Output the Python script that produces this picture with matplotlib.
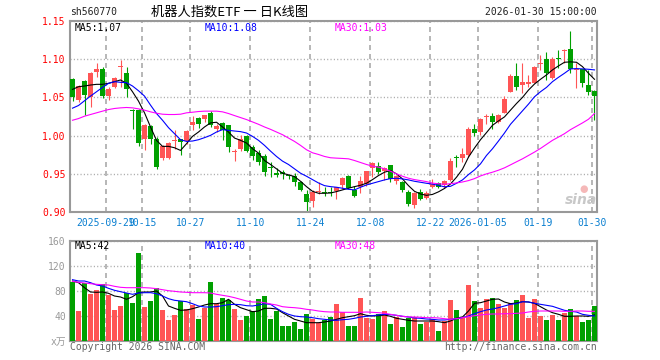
import matplotlib
matplotlib.use("Agg")
import matplotlib.pyplot as plt
import numpy as np

plt.rcParams['font.family'] = ['DejaVu Sans Mono', 'Noto Sans CJK SC']

## daily candles, 2025-09-19 .. 2026-01-30 (88 trading days)
opens = [1.0737, 1.0464, 1.0715, 1.0508, 1.0838, 1.0873, 1.0521, 1.0631, 1.0895, 1.0816,
         1.0333, 1.0333, 0.9951, 1.0122, 0.9960, 0.9705, 0.9705, 0.9933, 0.9951, 0.9925,
         1.0135, 1.0236, 1.0223, 1.0302, 1.0082, 1.0170, 1.0135, 0.9784, 0.9819, 1.0000,
         0.9850, 0.9771, 0.9731, 0.9587, 0.9508, 0.9530, 0.9486, 0.9477, 0.9390, 0.9236,
         0.9148, 0.9258, 0.9258, 0.9258, 0.9280, 0.9357, 0.9477, 0.9289, 0.9324, 0.9367,
         0.9573, 0.9600, 0.9543, 0.9609, 0.9402, 0.9390, 0.9267, 0.9091, 0.9267, 0.9179,
         0.9324, 0.9380, 0.9357, 0.9424, 0.9718, 0.9705, 0.9749, 1.0091, 1.0047, 1.0240,
         1.0254, 1.0179, 1.0298, 1.0574, 1.0780, 1.0662, 1.0671, 1.0693, 1.0939, 1.1004,
         1.0750, 1.1018, 1.1101, 1.1136, 1.0860, 1.0868, 1.0662, 1.0583]
highs = [1.0750, 1.0660, 1.0728, 1.0838, 1.0956, 1.0895, 1.0640, 1.0763, 1.0991, 1.0895,
         1.0346, 1.0346, 1.0157, 1.0135, 0.9981, 0.9872, 0.9916, 1.0070, 0.9960, 1.0070,
         1.0254, 1.0245, 1.0276, 1.0320, 1.0157, 1.0179, 1.0144, 0.9828, 1.0003, 1.0012,
         0.9872, 0.9806, 0.9753, 0.9652, 0.9573, 0.9552, 0.9500, 0.9508, 0.9411, 0.9293,
         0.9289, 0.9390, 0.9324, 0.9324, 0.9324, 0.9455, 0.9486, 0.9346, 0.9477, 0.9543,
         0.9660, 0.9652, 0.9587, 0.9617, 0.9490, 0.9411, 0.9289, 0.9258, 0.9302, 0.9276,
         0.9433, 0.9389, 0.9424, 0.9705, 0.9749, 0.9837, 1.0113, 1.0157, 1.0236, 1.0289,
         1.0298, 1.0289, 1.0517, 1.0807, 1.0956, 1.0956, 1.0794, 1.0912, 1.1057, 1.1088,
         1.1035, 1.1123, 1.1136, 1.1364, 1.0947, 1.0877, 1.0860, 1.0596]
lows = [1.0456, 1.0440, 1.0267, 1.0377, 1.0772, 1.0486, 1.0464, 1.0618, 1.0640, 1.0508,
        1.0082, 0.9863, 0.9815, 0.9894, 0.9565, 0.9675, 0.9690, 0.9819, 0.9740, 0.9894,
        1.0070, 1.0104, 1.0179, 1.0113, 1.0047, 0.9938, 0.9784, 0.9666, 0.9797, 0.9784,
        0.9675, 0.9609, 0.9470, 0.9455, 0.9455, 0.9433, 0.9433, 0.9346, 0.9270, 0.9000,
        0.9070, 0.9236, 0.9210, 0.9210, 0.9175, 0.9302, 0.9302, 0.9192, 0.9249, 0.9346,
        0.9455, 0.9500, 0.9424, 0.9390, 0.9367, 0.9258, 0.9082, 0.9056, 0.9161, 0.9170,
        0.9315, 0.9315, 0.9315, 0.9411, 0.9586, 0.9651, 0.9718, 0.9990, 1.0003, 1.0157,
        1.0091, 1.0166, 1.0290, 1.0574, 1.0596, 1.0552, 1.0640, 1.0684, 1.0860, 1.0728,
        1.0737, 1.0881, 1.0947, 1.0816, 1.0618, 1.0640, 1.0530, 1.0210]
closes = [1.0508, 1.0653, 1.0530, 1.0824, 1.0873, 1.0521, 1.0609, 1.0750, 1.0903, 1.0605,
          1.0328, 0.9907, 1.0135, 0.9951, 0.9587, 0.9859, 0.9907, 0.9946, 0.9916, 1.0061,
          1.0179, 1.0157, 1.0267, 1.0144, 1.0122, 1.0078, 0.9850, 0.9797, 0.9960, 0.9797,
          0.9727, 0.9652, 0.9521, 0.9578, 0.9490, 0.9500, 0.9469, 0.9390, 0.9293, 0.9126,
          0.9258, 0.9280, 0.9245, 0.9245, 0.9324, 0.9440, 0.9315, 0.9214, 0.9411, 0.9534,
          0.9643, 0.9521, 0.9573, 0.9433, 0.9468, 0.9293, 0.9104, 0.9245, 0.9170, 0.9245,
          0.9367, 0.9324, 0.9411, 0.9674, 0.9705, 0.9762, 1.0082, 1.0039, 1.0214, 1.0249,
          1.0179, 1.0276, 1.0478, 1.0780, 1.0640, 1.0706, 1.0697, 1.0903, 1.0956, 1.0824,
          1.1004, 1.1000, 1.1123, 1.0868, 1.0877, 1.0684, 1.0574, 1.0521]

ma5 = [1.0605, 1.0640, 1.0649, 1.0662, 1.0671, 1.0671, 1.0684, 1.0706, 1.0728, 1.0684,
       1.0574, 1.0451, 1.0298, 1.0113, 0.9938, 0.9859, 0.9859, 0.9841, 0.9806, 0.9894,
       0.9990, 1.0047, 1.0113, 1.0166, 1.0175, 1.0113, 1.0047, 0.9968, 0.9938, 0.9903,
       0.9828, 0.9771, 0.9674, 0.9622, 0.9565, 0.9508, 0.9486, 0.9464, 0.9402, 0.9332,
       0.9271, 0.9245, 0.9245, 0.9249, 0.9267, 0.9289, 0.9311, 0.9332, 0.9350, 0.9376,
       0.9424, 0.9477, 0.9521, 0.9543, 0.9499, 0.9433, 0.9345, 0.9271, 0.9236, 0.9218,
       0.9230, 0.9264, 0.9308, 0.9367, 0.9455, 0.9560, 0.9718, 0.9837, 0.9946, 1.0039,
       1.0135, 1.0192, 1.0245, 1.0333, 1.0420, 1.0500, 1.0596, 1.0675, 1.0737, 1.0794,
       1.0860, 1.0912, 1.0960, 1.0965, 1.0960, 1.0903, 1.0816, 1.0737]
ma10 = [1.0359, 1.0394, 1.0456, 1.0517, 1.0574, 1.0631, 1.0684, 1.0706, 1.0697, 1.0693,
        1.0649, 1.0587, 1.0517, 1.0399, 1.0289, 1.0201, 1.0104, 1.0025, 0.9946, 0.9924,
        0.9929, 0.9946, 0.9973, 1.0003, 1.0047, 1.0078, 1.0069, 1.0060, 1.0052, 1.0034,
        0.9990, 0.9938, 0.9872, 0.9797, 0.9727, 0.9666, 0.9622, 0.9565, 0.9508, 0.9468,
        0.9424, 0.9380, 0.9345, 0.9332, 0.9324, 0.9311, 0.9297, 0.9289, 0.9324, 0.9354,
        0.9376, 0.9398, 0.9420, 0.9437, 0.9442, 0.9433, 0.9420, 0.9402, 0.9389, 0.9376,
        0.9365, 0.9348, 0.9330, 0.9336, 0.9376, 0.9420, 0.9490, 0.9551, 0.9630, 0.9740,
        0.9828, 0.9929, 1.0034, 1.0148, 1.0236, 1.0324, 1.0412, 1.0508, 1.0574, 1.0631,
        1.0706, 1.0763, 1.0816, 1.0873, 1.0877, 1.0873, 1.0868, 1.0860]
ma30 = [1.0201, 1.0223, 1.0254, 1.0276, 1.0298, 1.0320, 1.0341, 1.0355, 1.0363, 1.0368,
        1.0363, 1.0350, 1.0333, 1.0311, 1.0293, 1.0280, 1.0276, 1.0276, 1.0280, 1.0298,
        1.0306, 1.0315, 1.0320, 1.0320, 1.0320, 1.0311, 1.0289, 1.0262, 1.0236, 1.0210,
        1.0179, 1.0148, 1.0113, 1.0082, 1.0047, 1.0012, 0.9968, 0.9924, 0.9872, 0.9815,
        0.9775, 0.9753, 0.9727, 0.9710, 0.9705, 0.9701, 0.9696, 0.9674, 0.9648, 0.9622,
        0.9600, 0.9587, 0.9565, 0.9534, 0.9499, 0.9468, 0.9442, 0.9424, 0.9411, 0.9398,
        0.9378, 0.9370, 0.9362, 0.9371, 0.9380, 0.9393, 0.9411, 0.9437, 0.9472, 0.9499,
        0.9521, 0.9547, 0.9578, 0.9617, 0.9657, 0.9696, 0.9740, 0.9784, 0.9832, 0.9885,
        0.9938, 0.9981, 1.0025, 1.0078, 1.0122, 1.0166, 1.0214, 1.0289]

## volume, x万
volume = [94.9, 48.0, 93.3, 75.7, 81.0, 90.7, 73.6, 49.6, 56.0, 77.3,
          61.3, 141.3, 54.4, 64.0, 85.3, 49.6, 33.6, 41.6, 64.0, 51.7,
          57.6, 35.7, 53.3, 94.4, 59.7, 69.3, 65.0, 51.7, 33.6, 40.0,
          48.0, 66.7, 72.0, 35.7, 48.0, 24.0, 24.0, 30.9, 19.7, 43.7,
          35.7, 29.3, 33.0, 38.4, 59.7, 46.4, 24.0, 24.0, 69.3, 36.3,
          35.7, 42.7, 48.0, 27.7, 38.4, 22.4, 36.3, 38.9, 27.7, 30.9,
          34.7, 16.0, 32.0, 65.6, 49.6, 38.4, 89.6, 64.0, 52.3, 67.7,
          69.3, 58.7, 53.3, 61.3, 65.6, 73.6, 37.3, 67.7, 40.0, 33.6,
          41.6, 33.6, 45.3, 50.7, 40.0, 30.9, 33.6, 56.0]
vma5 = [96.0, 93.3, 85.3, 78.4, 77.9, 78.4, 76.3, 72.0, 70.4, 66.7,
        70.9, 77.3, 78.4, 78.4, 80.0, 72.0, 56.0, 52.3, 49.1, 49.6,
        51.7, 54.4, 57.6, 59.7, 59.7, 61.3, 66.7, 58.7, 53.3, 50.1,
        46.9, 48.0, 52.3, 52.3, 51.2, 45.3, 40.0, 34.7, 32.0, 29.3,
        29.3, 29.3, 30.4, 32.0, 34.7, 37.3, 38.9, 40.5, 43.7, 41.1,
        40.0, 40.5, 41.6, 39.5, 36.3, 34.7, 33.1, 32.0, 32.0, 32.0,
        32.0, 30.9, 29.3, 32.0, 36.3, 38.4, 48.0, 60.3, 61.3, 64.0,
        66.7, 67.2, 62.4, 59.7, 60.8, 62.9, 62.4, 60.3, 54.9, 49.6,
        45.3, 42.7, 39.5, 39.5, 40.0, 40.0, 39.5, 41.6]
vma10 = [98.1, 96.0, 96.0, 93.3, 89.6, 88.0, 84.3, 81.1, 78.9, 76.8,
         74.7, 76.8, 77.3, 77.3, 75.7, 72.0, 67.7, 65.1, 64.0, 62.9,
         59.7, 56.0, 54.4, 54.4, 54.9, 56.5, 58.1, 58.7, 58.1, 56.5,
         56.0, 57.6, 59.7, 58.7, 52.3, 46.9, 42.7, 40.0, 38.9, 38.4,
         37.3, 35.7, 34.7, 33.6, 33.1, 34.1, 34.7, 36.3, 38.4, 39.5,
         40.5, 41.6, 42.7, 42.1, 41.1, 39.5, 38.4, 36.8, 36.3, 35.2,
         34.7, 33.6, 33.6, 34.7, 35.7, 37.3, 40.0, 43.7, 46.9, 49.6,
         51.2, 53.3, 56.0, 58.7, 59.7, 62.9, 62.4, 60.3, 58.7, 57.1,
         55.5, 52.3, 49.1, 47.5, 46.4, 42.7, 41.1, 40.0]
vma30 = [95.5, 93.9, 92.8, 91.7, 90.7, 90.1, 89.6, 87.5, 85.9, 85.3,
         85.3, 85.3, 85.3, 84.8, 83.7, 82.1, 80.5, 79.5, 78.4, 77.9,
         77.3, 77.3, 77.3, 76.8, 74.7, 73.1, 71.5, 69.3, 66.7, 64.0,
         62.4, 62.4, 61.3, 59.2, 57.6, 54.9, 53.9, 53.3, 52.3, 50.7,
         49.6, 48.0, 46.9, 46.4, 46.4, 45.9, 45.9, 45.9, 45.9, 46.4,
         45.9, 45.3, 44.3, 42.7, 41.1, 39.5, 38.4, 38.4, 37.9, 37.3,
         37.3, 36.8, 35.7, 34.7, 35.7, 37.3, 38.9, 40.5, 41.6, 42.7,
         43.2, 43.2, 43.7, 43.7, 44.3, 44.8, 46.4, 47.5, 48.0, 48.0,
         48.0, 48.0, 47.5, 47.5, 48.0, 48.0, 47.5, 47.5]

## date labels and the candle index they sit on
date_labels = ['2025-09-29', '10-15', '10-27', '11-10', '11-24', '12-08',
               '12-22', '2026-01-05', '01-19', '01-30']
date_idx = [6, 12, 20, 30, 40, 50, 60, 68, 78, 87]
price_ticks = [0.90, 0.95, 1.00, 1.05, 1.10, 1.15]
vol_ticks = [0, 40, 80, 120, 160]
vol_tick_labels = ['x万', '40', '80', '120', '160']

RED = '#ff5555'
GREEN = '#00a000'
GRID = '#aaaaaa'
FRAME = '#999999'
BLUE_TXT = '#0a7fd0'

W, H = 660, 360
fig = plt.figure(figsize=(6.6, 3.6), dpi=100)
fig.patch.set_facecolor('white')


def box(l, t, r, b):
    return [l / W, 1 - b / H, (r - l) / W, (b - t) / H]


def ftxt(xp, yp, s, **kw):
    fig.text(xp / W, 1 - yp / H, s, **kw)


ax = fig.add_axes(box(70, 21, 597, 212))
axv = fig.add_axes(box(70, 241, 597, 341))

o = np.array(opens)
c = np.array(closes)
x = np.arange(len(c))
cols = np.where(c >= o, RED, GREEN)
grid_x = np.array(date_idx) - 0.4

## candles
ax.vlines(x, lows, highs, colors=cols, lw=0.8, zorder=2)
body_h = np.maximum(np.abs(c - o), 0.0012)
ax.bar(x, body_h, bottom=np.minimum(o, c), width=0.78, color=cols, lw=0, zorder=3)
ax.plot(x, ma5, color='black', lw=0.8, zorder=4)
ax.plot(x, ma10, color='#0000ff', lw=0.8, zorder=4)
ax.plot(x, ma30, color='#ff00ff', lw=0.8, zorder=4)

## volume
axv.bar(x, volume, width=0.78, color=cols, lw=0, zorder=3)
axv.plot(x, vma5, color='black', lw=0.8, zorder=4)
axv.plot(x, vma10, color='#0000ff', lw=0.8, zorder=4)
axv.plot(x, vma30, color='#ff00ff', lw=0.8, zorder=4)

for a in (ax, axv):
    a.set_xlim(-0.42, 87.42)
    a.set_xticks(grid_x)
    a.set_axisbelow(True)
    a.grid(axis='x', linestyle=(0, (3, 2.4)), color=GRID, lw=1.2)
    a.grid(axis='y', linestyle=(0, (0.8, 1.6)), color=GRID, lw=1.0)
    for s in a.spines.values():
        s.set_color(FRAME)
        s.set_linewidth(1.5)
    a.tick_params(length=0, labelsize=7)

ax.set_ylim(0.90, 1.15)
ax.set_yticks(price_ticks)
ax.set_yticklabels(['%.2f' % v for v in price_ticks])
ax.tick_params(axis='y', labelcolor='#ff0000', pad=3)
ax.set_xticklabels(date_labels)
ax.tick_params(axis='x', labelcolor=BLUE_TXT, pad=4)

axv.set_ylim(0, 160)
axv.set_yticks(vol_ticks)
axv.set_yticklabels(vol_tick_labels)
axv.tick_params(axis='y', labelcolor=FRAME, pad=3)
axv.set_xticklabels([])

## header
ftxt(70, 12, 'sh560770', ha='left', va='center', fontsize=7, color='#222222')
ftxt(230, 12, '机器人指数ETF 一 日K线图', ha='center', va='center', fontsize=9.5,
     color='black', family=['Noto Sans CJK SC', 'DejaVu Sans'])
ftxt(597, 12, '2026-01-30 15:00:00', ha='right', va='center', fontsize=7, color='#222222')

## MA legends
ftxt(75, 28, 'MA5:1.07', ha='left', va='center', fontsize=7, color='black')
ftxt(205, 28, 'MA10:1.08', ha='left', va='center', fontsize=7, color='#0000ff')
ftxt(335, 28, 'MA30:1.03', ha='left', va='center', fontsize=7, color='#ff00ff')
ftxt(75, 246, 'MA5:42', ha='left', va='center', fontsize=7, color='black')
ftxt(205, 246, 'MA10:40', ha='left', va='center', fontsize=7, color='#0000ff')
ftxt(335, 246, 'MA30:48', ha='left', va='center', fontsize=7, color='#ff00ff')

## sina watermark
ftxt(581, 200, 'sina', ha='center', va='center', fontsize=10, fontweight='bold',
     style='italic', color='#c8c8c8', family='DejaVu Sans')
ftxt(584, 189, '●', ha='center', va='center', fontsize=7, color='#f5b8b8',
     family='DejaVu Sans')

## footer
ftxt(70, 347, 'Copyright 2026 SINA.COM', ha='left', va='center', fontsize=7, color='#666666')
ftxt(597, 347, 'http://finance.sina.com.cn', ha='right', va='center', fontsize=7,
     color='#666666')

fig.savefig('out.png', dpi=100)
